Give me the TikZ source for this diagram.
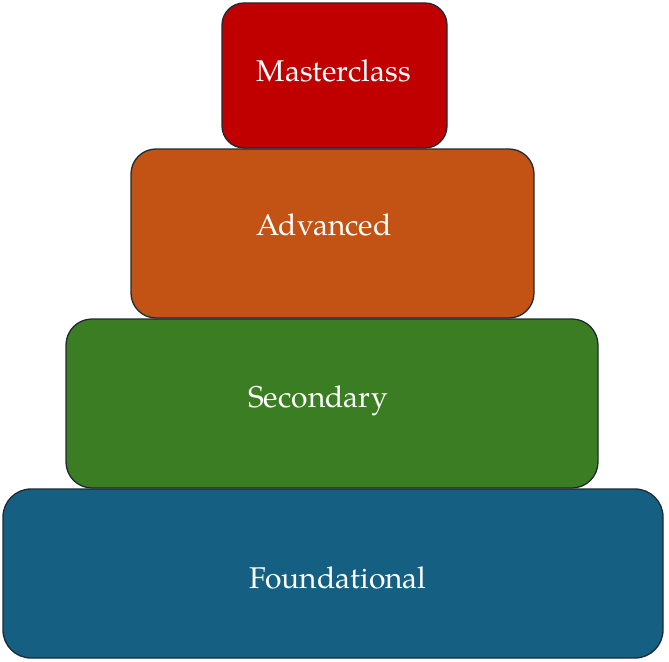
\documentclass[tikz,border=0pt]{standalone}
\usepackage{fontspec}
\setmainfont{TeX Gyre Pagella}
\definecolor{cred}{HTML}{C00000}
\definecolor{corange}{HTML}{C25314}
\definecolor{cgreen}{HTML}{3B7D23}
\definecolor{cblue}{HTML}{156082}
\definecolor{cedge}{HTML}{1E2A33}
\begin{document}
\begin{tikzpicture}[x=1pt,y=-1pt,
  tier/.style={draw=cedge,line width=1.3pt,rounded corners=#1},
  lbl/.style={text=white,font=\fontsize{30}{34}\selectfont}]
\useasboundingbox (0,0) rectangle (669,661);
\filldraw[tier=28pt,fill=cblue] (3,489) rectangle (663,658);
\filldraw[tier=26pt,fill=cgreen] (66,319) rectangle (598,488);
\filldraw[tier=25pt,fill=corange] (131,149) rectangle (534,318);
\filldraw[tier=22pt,fill=cred] (222,3) rectangle (447,148);
\node[lbl] (f) at (338,578) {Foundational};
\node[lbl] (s) at (318,401) {Secondary};
\node[lbl] (a) at (324,225) {Advanced};
\node[lbl] (m) at (334,71) {Masterclass};
\end{tikzpicture}
\end{document}
